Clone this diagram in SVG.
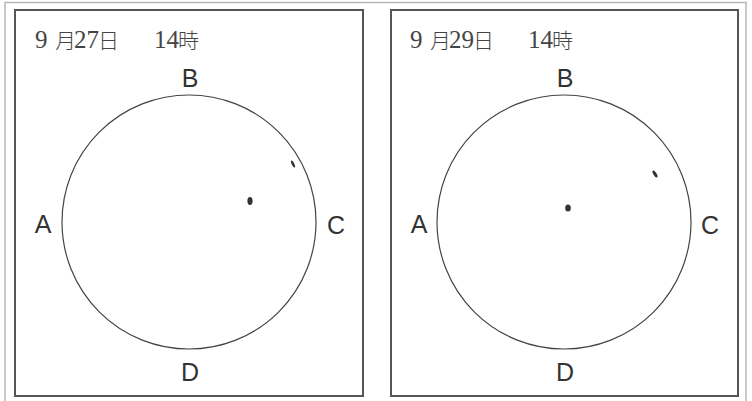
<svg xmlns="http://www.w3.org/2000/svg" width="752" height="401" viewBox="0 0 752 401">
<style>
.outer{fill:none;stroke:#b8b8b8;stroke-width:1.5}
.panel{fill:#fff;stroke:#555;stroke-width:2}
.sun{fill:none;stroke:#444;stroke-width:1.2}
.lbl{font-family:"Liberation Sans",Arial,sans-serif;font-size:25px;fill:#333;text-anchor:middle}
.ttl{font-family:"Liberation Serif","Noto Sans CJK JP",serif;font-size:25px;fill:#444}
.kj{font-family:"Noto Sans CJK JP",sans-serif;font-size:21px;font-weight:300}
.spot{fill:#333}
</style>
<rect width="752" height="401" fill="#fff"/>
<path class="outer" d="M5,401 V2.5 H746 V401"/>
<g id="panel-0927">
<rect class="panel" x="15" y="10" width="348" height="386"/>
<text class="ttl" y="48"><tspan x="35">9</tspan><tspan class="kj" x="55">月</tspan><tspan x="74">27</tspan><tspan class="kj" x="98">日</tspan><tspan x="154">14</tspan><tspan class="kj" x="178">時</tspan></text>
<circle class="sun" cx="189" cy="222" r="127"/>
<text class="lbl" x="190" y="87">B</text>
<text class="lbl" x="43" y="233">A</text>
<text class="lbl" x="336" y="234">C</text>
<text class="lbl" x="190" y="381">D</text>
<ellipse class="spot" cx="250" cy="201" rx="2.6" ry="4"/>
<ellipse class="spot" cx="293" cy="164" rx="1.3" ry="3.8" transform="rotate(-25 293 164)"/>
</g>
<g id="panel-0929">
<rect class="panel" x="391" y="10" width="347" height="386"/>
<text class="ttl" y="48"><tspan x="410">9</tspan><tspan class="kj" x="430">月</tspan><tspan x="449">29</tspan><tspan class="kj" x="473">日</tspan><tspan x="528">14</tspan><tspan class="kj" x="552">時</tspan></text>
<circle class="sun" cx="564" cy="222" r="127"/>
<text class="lbl" x="565" y="87">B</text>
<text class="lbl" x="419" y="233">A</text>
<text class="lbl" x="710" y="234">C</text>
<text class="lbl" x="565" y="381">D</text>
<ellipse class="spot" cx="568" cy="208" rx="2.8" ry="3.6"/>
<ellipse class="spot" cx="655" cy="174" rx="1.6" ry="4" transform="rotate(-30 655 174)"/>
</g>
<g id="connectors"></g>
</svg>
